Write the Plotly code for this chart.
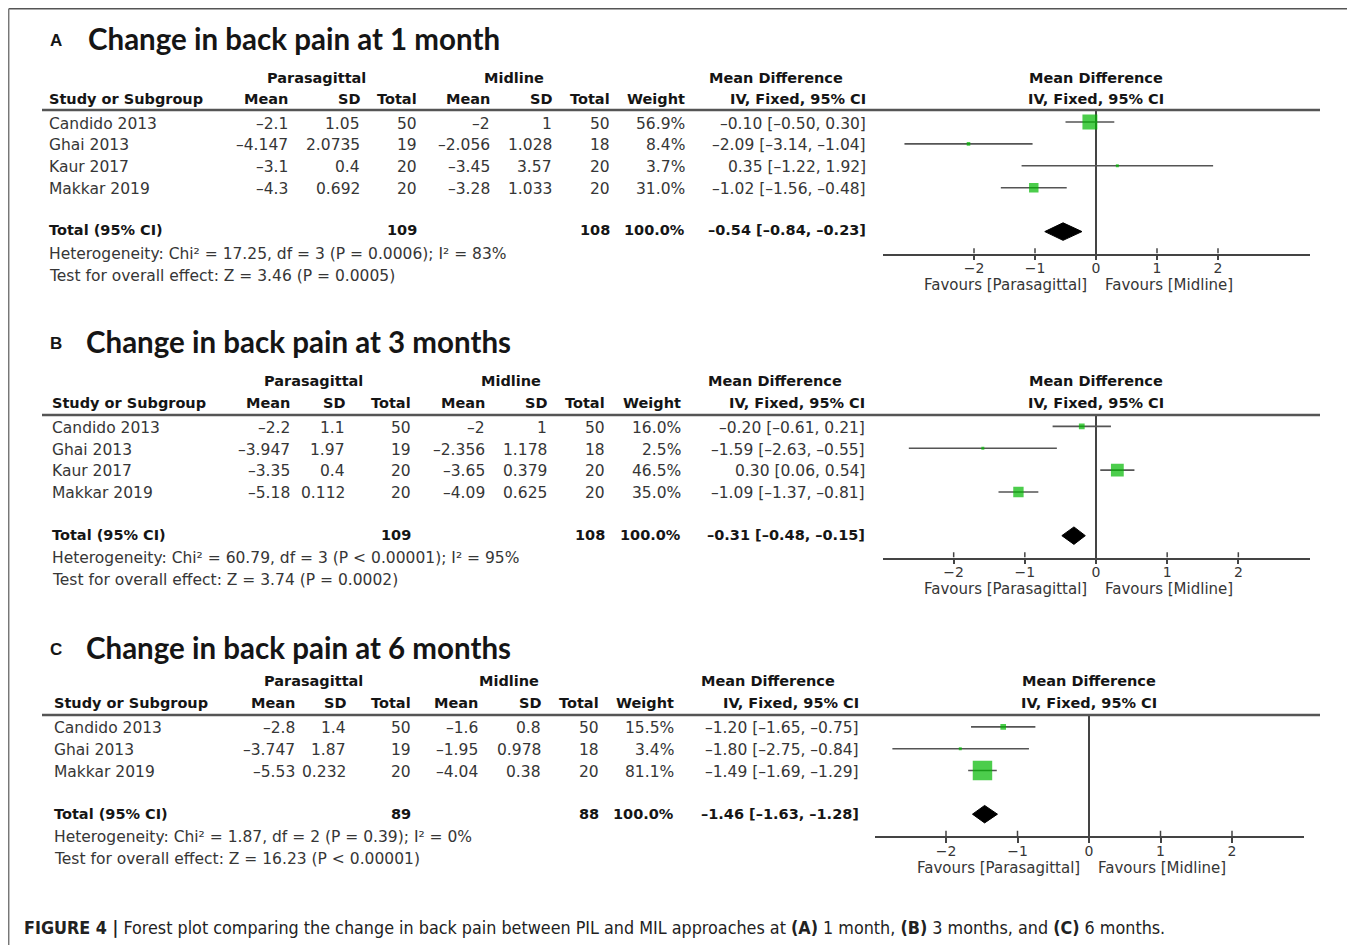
import plotly.graph_objects as go

W, H = 1355, 945
OFF = 8  # page body margin of the browser
FW, FH = W - OFF, H - OFF

# ---------------- DATA ----------------
# Panel A: 1 month
a_studies = ["Candido 2013", "Ghai 2013", "Kaur 2017", "Makkar 2019"]
a_para_mean = [-2.1, -4.147, -3.1, -4.3]
a_para_sd = [1.05, 2.0735, 0.4, 0.692]
a_para_n = [50, 19, 20, 20]
a_mid_mean = [-2, -2.056, -3.45, -3.28]
a_mid_sd = [1, 1.028, 3.57, 1.033]
a_mid_n = [50, 18, 20, 20]
a_weight = [56.9, 8.4, 3.7, 31.0]
a_md = [-0.10, -2.09, 0.35, -1.02]
a_lo = [-0.50, -3.14, -1.22, -1.56]
a_hi = [0.30, -1.04, 1.92, -0.48]
a_total = dict(pn=109, mn=108, md=-0.54, lo=-0.84, hi=-0.23)
a_het = "Heterogeneity: Chi² = 17.25, df = 3 (P = 0.0006); I² = 83%"
a_test = "Test for overall effect: Z = 3.46 (P = 0.0005)"

# Panel B: 3 months
b_studies = ["Candido 2013", "Ghai 2013", "Kaur 2017", "Makkar 2019"]
b_para_mean = [-2.2, -3.947, -3.35, -5.18]
b_para_sd = [1.1, 1.97, 0.4, 0.112]
b_para_n = [50, 19, 20, 20]
b_mid_mean = [-2, -2.356, -3.65, -4.09]
b_mid_sd = [1, 1.178, 0.379, 0.625]
b_mid_n = [50, 18, 20, 20]
b_weight = [16.0, 2.5, 46.5, 35.0]
b_md = [-0.20, -1.59, 0.30, -1.09]
b_lo = [-0.61, -2.63, 0.06, -1.37]
b_hi = [0.21, -0.55, 0.54, -0.81]
b_total = dict(pn=109, mn=108, md=-0.31, lo=-0.48, hi=-0.15)
b_het = "Heterogeneity: Chi² = 60.79, df = 3 (P < 0.00001); I² = 95%"
b_test = "Test for overall effect: Z = 3.74 (P = 0.0002)"

# Panel C: 6 months
c_studies = ["Candido 2013", "Ghai 2013", "Makkar 2019"]
c_para_mean = [-2.8, -3.747, -5.53]
c_para_sd = [1.4, 1.87, 0.232]
c_para_n = [50, 19, 20]
c_mid_mean = [-1.6, -1.95, -4.04]
c_mid_sd = [0.8, 0.978, 0.38]
c_mid_n = [50, 18, 20]
c_weight = [15.5, 3.4, 81.1]
c_md = [-1.20, -1.80, -1.49]
c_lo = [-1.65, -2.75, -1.69]
c_hi = [-0.75, -0.84, -1.29]
c_total = dict(pn=89, mn=88, md=-1.46, lo=-1.63, hi=-1.28)
c_het = "Heterogeneity: Chi² = 1.87, df = 2 (P = 0.39); I² = 0%"
c_test = "Test for overall effect: Z = 16.23 (P < 0.00001)"

tick_vals = [-2, -1, 0, 1, 2]
caption = ("<b>FIGURE 4 |</b> Forest plot comparing the change in back pain between PIL and MIL "
           "approaches at <b>(A)</b> 1 month, <b>(B)</b> 3 months, and <b>(C)</b> 6 months.")

# ---------------- LAYOUT (pixel positions in the page) ----------------
panels = [
    dict(letter="A", title="Change in back pain at 1 month",
         studies=a_studies, pm=a_para_mean, psd=a_para_sd, pn=a_para_n,
         mm=a_mid_mean, msd=a_mid_sd, mn=a_mid_n, w=a_weight, md=a_md, lo=a_lo, hi=a_hi,
         tot=a_total, het=a_het, test=a_test, xr=(-3.5, 3.5),
         L=dict(ty=38, lx=48, tx=86, h1=78, h2=99, line=110, r0=124, dy=21.5, toty=230,
                hety=254, testy=276, sx=47, cols=[290, 362, 419, 492, 554, 612, 687, 868],
                pc=316, mc=514, mdc=776, px0=882.5, px1=1309.5, py0=111, py1=253.5,
                phc=1096, fav=285)),
    dict(letter="B", title="Change in back pain at 3 months",
         studies=b_studies, pm=b_para_mean, psd=b_para_sd, pn=b_para_n,
         mm=b_mid_mean, msd=b_mid_sd, mn=b_mid_n, w=b_weight, md=b_md, lo=b_lo, hi=b_hi,
         tot=b_total, het=b_het, test=b_test, xr=(-3.0, 3.0),
         L=dict(ty=341, lx=48, tx=84, h1=381, h2=403, line=415, r0=428, dy=21.7, toty=535,
                hety=558, testy=580, sx=50, cols=[292, 347, 413, 487, 549, 607, 683, 867],
                pc=313, mc=511, mdc=775, px0=882.5, px1=1309.5, py0=415.5, py1=557.5,
                phc=1096, fav=589)),
    dict(letter="C", title="Change in back pain at 6 months",
         studies=c_studies, pm=c_para_mean, psd=c_para_sd, pn=c_para_n,
         mm=c_mid_mean, msd=c_mid_sd, mn=c_mid_n, w=c_weight, md=c_md, lo=c_lo, hi=c_hi,
         tot=c_total, het=c_het, test=c_test, xr=(-3.0, 3.0),
         L=dict(ty=647, lx=48, tx=84, h1=681, h2=703, line=715, r0=728, dy=21.8, toty=814,
                hety=837, testy=859, sx=52, cols=[297, 348, 413, 480, 543, 601, 676, 861],
                pc=313, mc=509, mdc=768, px0=874.5, px1=1303.5, py0=716, py1=836,
                phc=1089, fav=868)),
]

TFONT = "DejaVu Sans, Verdana, sans-serif"
REG = "#363636"
BLK = "#151515"
FS = 15.5
BS = 14.5


def X(x):
    return (x - OFF) / FW


def Y(y):
    return 1 - (y - OFF) / FH


def num(v):
    return f"{v:g}".replace("-", "–")


def mdtxt(m, l, h):
    return f"{m:.2f} [{l:.2f}, {h:.2f}]".replace("-", "–")


annotations = []
shapes = []


def ann(text, x, y, xa="left", size=FS, color=REG, family=TFONT):
    annotations.append(dict(text=text, x=X(x), y=Y(y), xref="paper", yref="paper",
                            xanchor=xa, yanchor="middle", showarrow=False,
                            font=dict(size=size, color=color, family=family)))


fig = go.Figure()
layout_axes = {}

for k, p in enumerate(panels):
    L = p["L"]
    n = len(p["studies"])
    c = L["cols"]
    # titles
    ann("<b>" + p["letter"] + "</b>", L["lx"], L["ty"] + 2, size=17, color=BLK,
        family="Liberation Sans, Arial, sans-serif")
    ann("<b>" + p["title"] + "</b>", L["tx"], L["ty"], size=29.5, color=BLK,
        family="Lato, Carlito, Open Sans, sans-serif")
    # headers
    ann("<b>Parasagittal</b>", L["pc"], L["h1"], xa="center", size=BS, color=BLK)
    ann("<b>Midline</b>", L["mc"], L["h1"], xa="center", size=BS, color=BLK)
    ann("<b>Mean Difference</b>", L["mdc"], L["h1"], xa="center", size=BS, color=BLK)
    ann("<b>Mean Difference</b>", L["phc"], L["h1"], xa="center", size=BS, color=BLK)
    ann("<b>IV, Fixed, 95% CI</b>", L["phc"], L["h2"], xa="center", size=BS, color=BLK)
    ann("<b>Study or Subgroup</b>", L["sx"], L["h2"], size=BS, color=BLK)
    for lab, xx in zip(["Mean", "SD", "Total", "Mean", "SD", "Total", "Weight",
                        "IV, Fixed, 95% CI"], c):
        ann("<b>" + lab + "</b>", xx, L["h2"], xa="right", size=BS, color=BLK)
    shapes.append(dict(type="line", xref="paper", yref="paper", x0=X(42), x1=X(1320),
                       y0=Y(L["line"]), y1=Y(L["line"]), line=dict(color="#555", width=2.5)))
    # rows
    for i in range(n):
        yy = L["r0"] + i * L["dy"]
        ann(p["studies"][i], L["sx"], yy)
        vals = [num(p["pm"][i]), num(p["psd"][i]), str(p["pn"][i]), num(p["mm"][i]),
                num(p["msd"][i]), str(p["mn"][i]), f"{p['w'][i]:.1f}%",
                mdtxt(p["md"][i], p["lo"][i], p["hi"][i])]
        for v, xx in zip(vals, c):
            ann(v, xx, yy, xa="right")
    t = p["tot"]
    ann("<b>Total (95% CI)</b>", L["sx"], L["toty"], size=BS, color=BLK)
    ann(f"<b>{t['pn']}</b>", c[2], L["toty"], xa="right", size=BS, color=BLK)
    ann(f"<b>{t['mn']}</b>", c[5], L["toty"], xa="right", size=BS, color=BLK)
    ann("<b>100.0%</b>", c[6], L["toty"], xa="right", size=BS, color=BLK)
    ann("<b>" + mdtxt(t["md"], t["lo"], t["hi"]) + "</b>", c[7], L["toty"], xa="right",
        size=BS, color=BLK)
    ann(p["het"], L["sx"], L["hety"])
    ann(p["test"], L["sx"], L["testy"])
    # favours labels
    ann("Favours [Parasagittal]", L["phc"] - 7, L["fav"], xa="right", size=15)
    ann("Favours [Midline]", L["phc"] + 7, L["fav"], size=15)

    # ---- forest plot ----
    sfx = "" if k == 0 else str(k + 1)
    xa_name, ya_name = "x" + sfx, "y" + sfx
    rows = list(range(n))
    ymax = n + 2
    sizes = [max(3.0, 0.72 * w ** 0.75) for w in p["w"]]
    fig.add_trace(go.Scatter(
        x=p["md"], y=rows, mode="markers", xaxis=xa_name, yaxis=ya_name,
        marker=dict(symbol="square", size=sizes, color="#00b800", line=dict(width=0)),
        error_x=dict(type="data", symmetric=False,
                     array=[h - m for h, m in zip(p["hi"], p["md"])],
                     arrayminus=[m - l for m, l in zip(p["md"], p["lo"])],
                     width=0, thickness=1.6, color="#555"),
        showlegend=False, hoverinfo="skip"))
    ty = n + 1
    fig.add_trace(go.Scatter(
        x=[t["lo"], t["md"], t["hi"], t["md"], t["lo"]],
        y=[ty, ty - 0.4, ty, ty + 0.4, ty], mode="lines", fill="toself",
        fillcolor="black", line=dict(color="black", width=1),
        xaxis=xa_name, yaxis=ya_name, showlegend=False, hoverinfo="skip"))
    # upper half of the crossing tick marks
    tx, tyy = [], []
    for tv in tick_vals:
        tx += [tv, tv, None]
        tyy += [ymax, ymax - 0.24, None]
    fig.add_trace(go.Scatter(x=tx, y=tyy, mode="lines", line=dict(color="#444", width=1.5),
                             xaxis=xa_name, yaxis=ya_name, showlegend=False,
                             hoverinfo="skip"))
    layout_axes["xaxis" + sfx] = dict(
        domain=[X(L["px0"]), X(L["px1"])], range=list(p["xr"]), anchor=ya_name,
        showline=True, linecolor="#444", linewidth=1.5, ticks="outside", ticklen=5,
        tickwidth=1.5, tickcolor="#444", tickvals=tick_vals, showgrid=False,
        zeroline=True, zerolinecolor="#444", zerolinewidth=1.5, ticklabelstandoff=-4,
        tickfont=dict(size=14, color=REG, family=TFONT), fixedrange=True)
    layout_axes["yaxis" + sfx] = dict(
        domain=[Y(L["py1"]), Y(L["py0"])], range=[ymax, -0.5], anchor=xa_name,
        visible=False, fixedrange=True)

# caption
annotations.append(dict(text=caption, x=X(22), y=Y(927), xref="paper", yref="paper",
                        xanchor="left", yanchor="middle", showarrow=False,
                        font=dict(size=17.8, color="#222",
                                  family="Liberation Sans Narrow, DejaVu Sans Condensed, Arial Narrow, sans-serif")))
# outer frame (top and left edges)
shapes.append(dict(type="line", xref="paper", yref="paper", x0=X(8.7), x1=1.0,
                   y0=Y(8.7), y1=Y(8.7), line=dict(color="#555", width=1.5)))
shapes.append(dict(type="line", xref="paper", yref="paper", x0=X(8.7), x1=X(8.7),
                   y0=Y(8.7), y1=0, line=dict(color="#777", width=1.5)))

fig.update_layout(width=FW, height=FH, margin=dict(l=0, r=0, t=0, b=0),
                  paper_bgcolor="white", plot_bgcolor="rgba(0,0,0,0)",
                  annotations=annotations, shapes=shapes, **layout_axes)

fig.write_html("out.html", config={"displayModeBar": False})
